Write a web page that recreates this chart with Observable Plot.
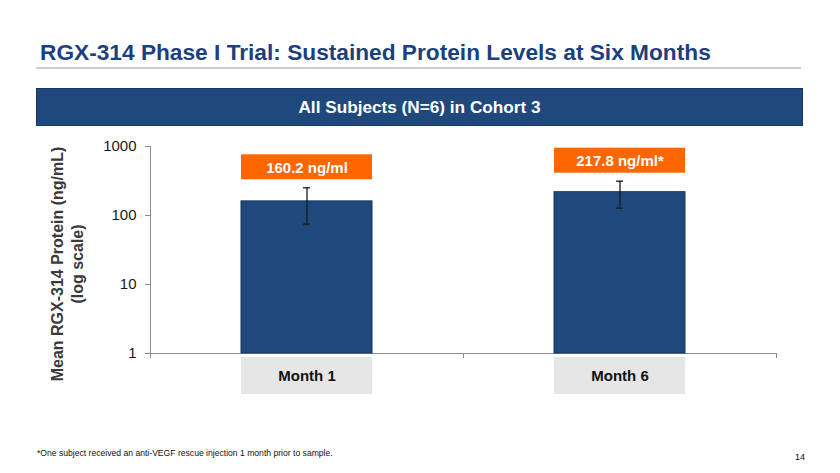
<!DOCTYPE html>
<html><head><meta charset="utf-8">
<script src="https://cdn.jsdelivr.net/npm/d3@7"></script>
<script src="https://cdn.jsdelivr.net/npm/@observablehq/plot@0.6"></script>
<style>
body{margin:0;background:#fff;font-family:"Liberation Sans",Arial,sans-serif;}
#page{position:relative;width:840px;height:473px;overflow:hidden;background:#fff;}
#chart{position:absolute;left:0;top:0;}
#title{position:absolute;left:40px;top:41px;font-size:22.7px;line-height:23px;font-weight:bold;color:#1C3F7D;white-space:nowrap;}
#rule{position:absolute;left:36px;top:67px;width:765px;height:2px;background:#C9CCDD;}
#banner{position:absolute;left:36px;top:88px;width:765px;height:36px;background:#1F497D;border:1px solid #17375E;color:#fff;font-size:17.2px;font-weight:bold;line-height:36px;text-align:center;}
#foot{position:absolute;left:37px;top:448px;font-size:8.6px;color:#111;white-space:nowrap;}
#pg{position:absolute;left:795px;top:452px;font-size:9px;color:#111;}
</style></head><body>
<div id="page">
  <div id="title"></div>
  <div id="rule"></div>
  <div id="banner"></div>
  <div id="chart"></div>
  <div id="foot"></div>
  <div id="pg"></div>
</div>
<script>
const titleText = "RGX-314 Phase I Trial: Sustained Protein Levels at Six Months";
const bannerText = "All Subjects (N=6) in Cohort 3";
const footText = "*One subject received an anti-VEGF rescue injection 1 month prior to sample.";
const pageNumber = "14";
const months = ["Month 1", "Month 6"];
const means = [160.2, 217.8];
const errLow = [75, 128];
const errHigh = [252, 314];
const valueLabels = ["160.2 ng/ml", "217.8 ng/ml*"];
const yTicks = [1, 10, 100, 1000];
const yTitle = ["Mean RGX-314 Protein (ng/mL)", "(log scale)"];

document.getElementById("title").textContent = titleText;
document.getElementById("banner").textContent = bannerText;
document.getElementById("foot").textContent = footText;
document.getElementById("pg").textContent = pageNumber;

const data = months.map((m, i) => ({month: m, mean: means[i], lo: errLow[i], hi: errHigh[i], label: valueLabels[i]}));

const W = 840, H = 473, mL = 150, mR = 64, mT = 146, mB = 120;
const step = (W - mL - mR) / months.length;
const axisGray = "#8C8C8C";

const chart = Plot.plot({
  width: W, height: H,
  marginLeft: mL, marginRight: mR, marginTop: mT, marginBottom: mB,
  style: {fontFamily: '"Liberation Sans", Arial, sans-serif', background: "transparent", overflow: "visible"},
  x: {type: "band", domain: months, paddingInner: 0.58, paddingOuter: 0.29, axis: null},
  y: {type: "log", domain: [1, 1000], axis: null},
  marks: [
    Plot.ruleY([1], {stroke: axisGray, strokeWidth: 1}),
    Plot.ruleX([months[0]], {x: d => d, dx: -step / 2, y1: () => 1, y2: () => 1000, stroke: axisGray}),
    Plot.ruleX(months, {x: d => d, dx: -step / 2, y1: () => 1, y2: () => 1, insetBottom: -5, stroke: axisGray}),
    Plot.ruleX([months[months.length - 1]], {x: d => d, dx: step / 2, y1: () => 1, y2: () => 1, insetBottom: -5, stroke: axisGray}),
    Plot.axisY({ticks: yTicks, tickSize: 5, tickPadding: 9, fontSize: 15, stroke: axisGray, fill: "#1a1a1a", tickFormat: d => String(d), label: null}),
    Plot.barY(data, {x: "month", y1: () => 1, y2: "mean", fill: "#1F497D", stroke: "#17375E", strokeWidth: 1}),
    Plot.ruleX(data, {x: "month", y1: "lo", y2: "hi", stroke: "#1a1a1a", strokeWidth: 1.3}),
    Plot.tickY(data, {x: "month", y: "hi", insetLeft: 62, insetRight: 62, stroke: "#1a1a1a", strokeWidth: 1.3}),
    Plot.tickY(data, {x: "month", y: "lo", insetLeft: 62, insetRight: 62, stroke: "#1a1a1a", strokeWidth: 1.3}),
    Plot.barY(data, {x: "month", y1: "hi", y2: "hi", insetTop: -33, insetBottom: 8, fill: "#FF6600"}),
    Plot.text(data, {x: "month", y: "hi", text: "label", dy: -20, fill: "#fff", fontSize: 15, fontWeight: "bold"}),
    Plot.barY(months, {x: d => d, y1: () => 1, y2: () => 1, insetTop: 4, insetBottom: -41, fill: "#E6E6E6"}),
    Plot.text(months, {x: d => d, y: () => 1, text: d => d, dy: 23, fill: "#111", fontSize: 15, fontWeight: "bold"}),
    Plot.text([yTitle.join("\n")], {frameAnchor: "left", text: d => d, rotate: -90, dx: -84, dy: 14, textAnchor: "middle", lineAnchor: "middle", lineHeight: 1.25, fontSize: 16, fontWeight: "bold", fill: "#3A3A3A"})
  ]
});
document.getElementById("chart").appendChild(chart);
</script>
</body></html>
